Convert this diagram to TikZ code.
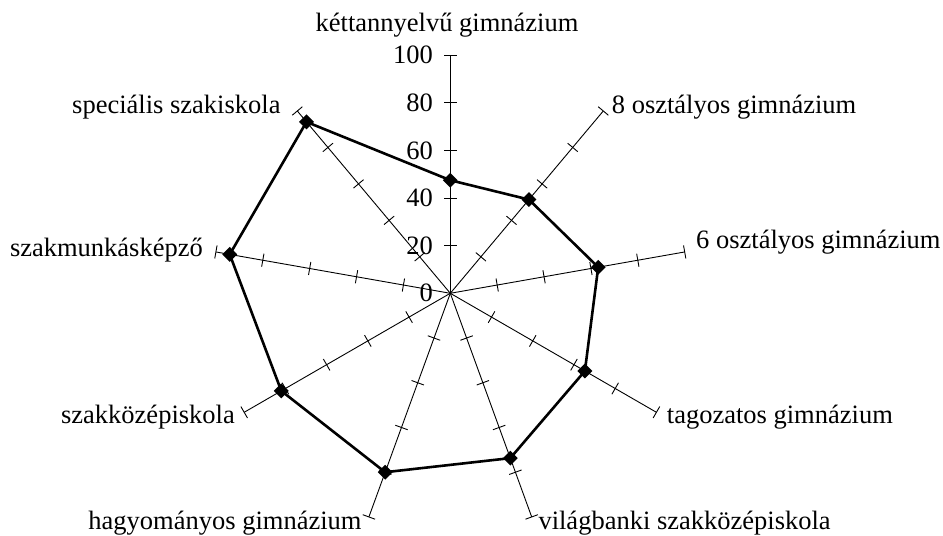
\documentclass[tikz,border=0pt]{standalone}
\usepackage{fontspec}
\setmainfont{Liberation Serif}
\usetikzlibrary{shapes.geometric,calc}
\begin{document}
\begin{tikzpicture}[x=1bp,y=1bp,
  lbl/.style={inner sep=0pt,font=\fontsize{26.5bp}{30bp}\selectfont},
  axisline/.style={line width=0.9bp,black},
  tickmark/.style={line width=0.9bp,black},
  dataline/.style={line width=2.6bp,black,line join=miter},
  marker/.style={diamond,fill=black,draw=none,minimum width=15bp,minimum height=15bp,inner sep=0pt}]
\useasboundingbox (0,0) rectangle (943,536);
\coordinate (c) at (450.3,242.7);
\def\R{238}
% axes with ticks
\foreach \a/\n in {90/a1,50/a2,10/a3,-30/a4,-70/a5,-110/a6,-150/a7,170/a8,130/a9}{
  \coordinate (\n) at ($(c)+(\a:\R)$);
  \draw[axisline] (c) -- (\n);
  \begin{scope}[shift={(c)},rotate=\a]
    \foreach \k in {1,...,5}{
      \draw[tickmark] (\k*\R/5,-6.6) -- (\k*\R/5,6.6);
    }
  \end{scope}
}
% tick labels
\foreach \k/\v in {0/0,1/20,2/40,3/60,4/80,5/100}{
  \node[lbl,anchor=east] (t\k) at (433,242.7+\k*\R/5) {\v};
}
% data points
\foreach \a/\v/\n in {90/47.5/p1,50/51.4/p2,10/63.1/p3,-30/65.3/p4,-70/73.7/p5,-110/80/p6,-150/82/p7,170/94.1/p8,130/94/p9}{
  \coordinate (\n) at ($(c)+(\a:\v*2.38)$);
}
\draw[dataline] (p1) -- (p2) -- (p3) -- (p4) -- (p5) -- (p6) -- (p7) -- (p8) -- (p9) -- cycle;
\foreach \n in {p1,p2,p3,p4,p5,p6,p7,p8,p9}{
  \node[marker] (m\n) at (\n) {};
}
% axis labels
\node[lbl,anchor=base] (l1) at (447,504) {kéttannyelvű gimnázium};
\node[lbl,anchor=base west] (l2) at (611.7,422.7) {8 osztályos gimnázium};
\node[lbl,anchor=base west] (l3) at (696,287.7) {6 osztályos gimnázium};
\node[lbl,anchor=base west] (l4) at (666.7,112.7) {tagozatos gimnázium};
\node[lbl,anchor=base west] (l5) at (538.3,6) {világbanki szakközépiskola};
\node[lbl,anchor=base east] (l6) at (361.7,6) {hagyományos gimnázium};
\node[lbl,anchor=base east] (l7) at (235,112.7) {szakközépiskola};
\node[lbl,anchor=base east] (l8) at (203,279.3) {szakmunkásképző};
\node[lbl,anchor=base east] (l9) at (280.7,422.7) {speciális szakiskola};
\end{tikzpicture}
\end{document}
